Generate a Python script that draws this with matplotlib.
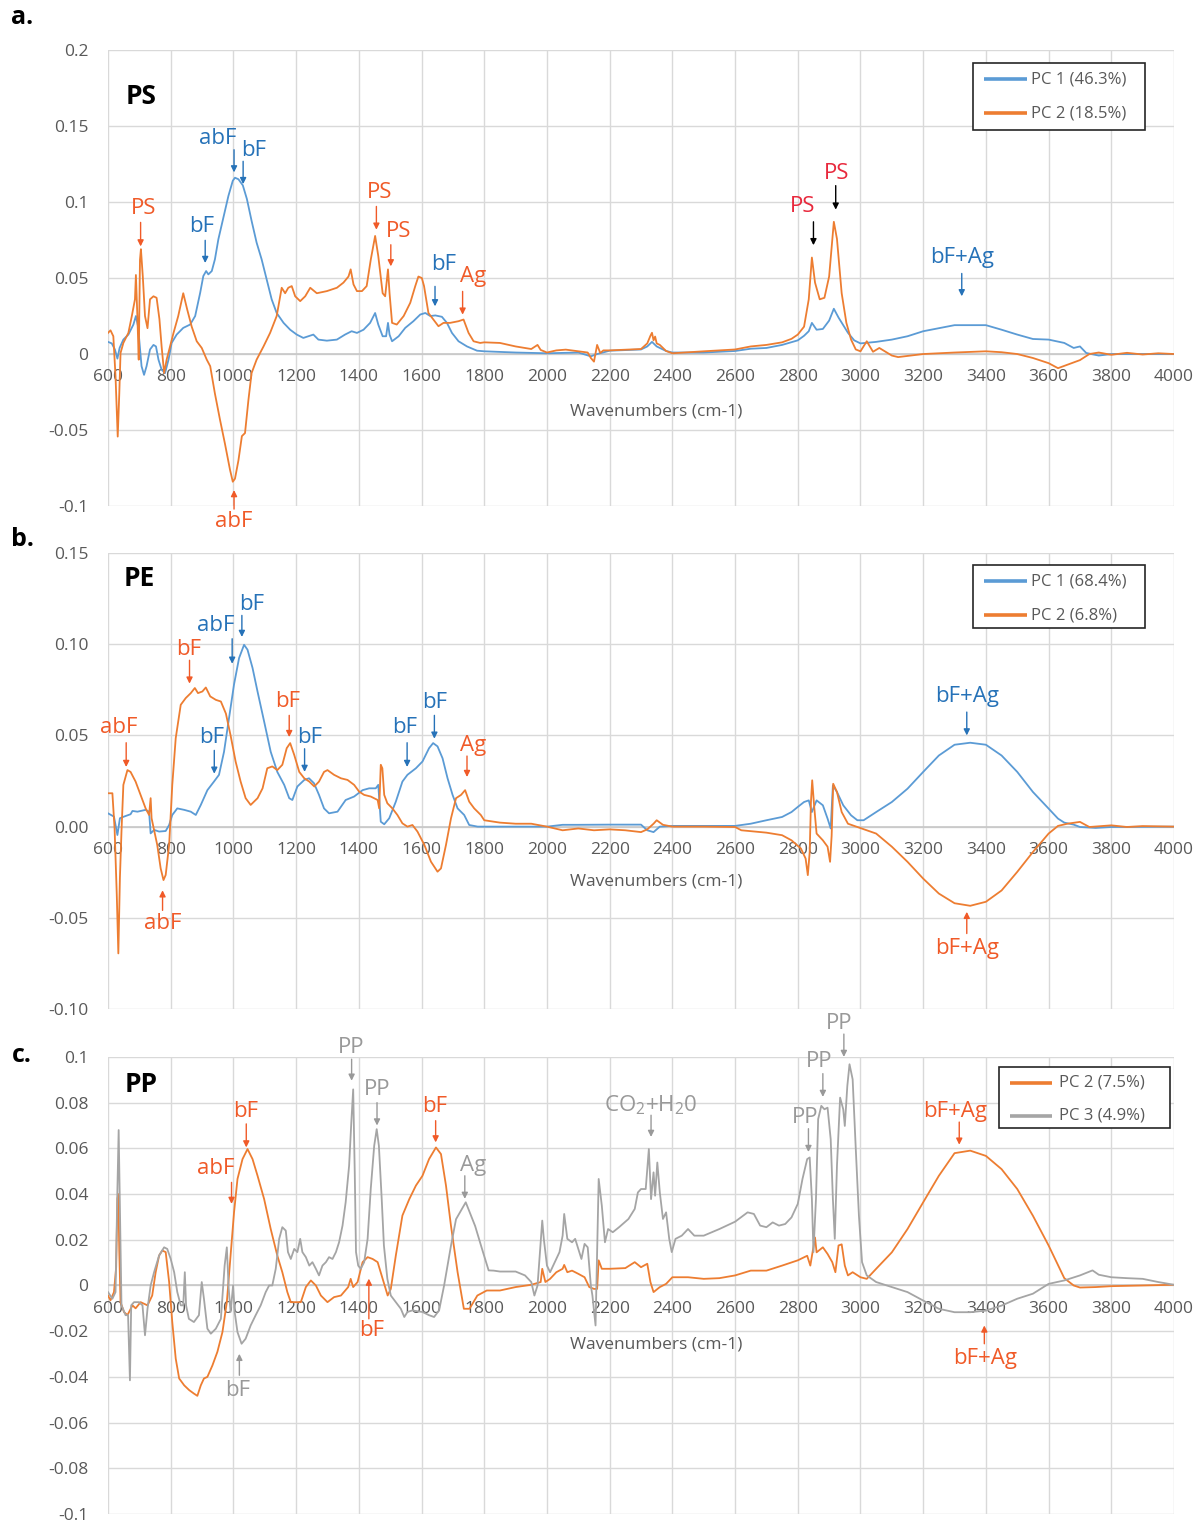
import matplotlib
matplotlib.use("Agg")
import matplotlib.pyplot as plt
from matplotlib.patches import Rectangle

plt.rcParams['font.family'] = ['Open Sans', 'DejaVu Sans']
plt.rcParams['mathtext.fontset'] = 'custom'
plt.rcParams['mathtext.rm'] = 'Open Sans'
plt.rcParams['mathtext.it'] = 'Open Sans'

# ---------------- PS : PC loadings ----------------
ps_pc1_wn = [600, 612, 622, 630, 637, 649, 665, 681, 689, 696, 700, 707, 715, 723, 734, 745, 753, 761, 771, 782,
             793, 803, 819, 840, 862, 878, 894, 904, 913, 920, 931, 941, 952, 968, 984, 998, 1005, 1016, 1030, 1043,
             1058, 1074, 1090, 1106, 1122, 1138, 1160, 1181, 1202, 1223, 1239, 1255, 1271, 1298, 1330, 1356, 1377,
             1394, 1415, 1436, 1452, 1462, 1476, 1487, 1493, 1498, 1506, 1527, 1548, 1574, 1596, 1612, 1628, 1644,
             1665, 1681, 1697, 1718, 1745, 1777, 1800, 1900, 2000, 2100, 2140, 2160, 2200, 2300, 2320, 2335, 2350,
             2380, 2400, 2500, 2600, 2650, 2700, 2750, 2800, 2820, 2835, 2845, 2860, 2880, 2900, 2915, 2930, 2960,
             2980, 3000, 3050, 3100, 3150, 3200, 3250, 3300, 3400, 3450, 3500, 3550, 3600, 3650, 3680, 3700, 3720,
             3760, 3800, 3900, 4000]
ps_pc1 = [0.008, 0.007, 0.003, -0.003, 0.004, 0.0095, 0.0128, 0.0194, 0.025, 0.018, 0.0084, -0.008, -0.0137,
          -0.008, 0.003, 0.006, 0.005, -0.0037, -0.0103, -0.0125, -0.0037, 0.0073, 0.0128, 0.0172, 0.0194, 0.025,
          0.0403, 0.0513, 0.0546, 0.0524, 0.0546, 0.0623, 0.0755, 0.0898, 0.104, 0.114, 0.116, 0.115, 0.111, 0.102,
          0.0876, 0.0733, 0.0623, 0.049, 0.036, 0.027, 0.0205, 0.016, 0.0128, 0.0106, 0.0117, 0.0128, 0.0095,
          0.0088, 0.0095, 0.0128, 0.015, 0.0139, 0.016, 0.0205, 0.027, 0.0194, 0.0117, 0.0117, 0.0205, 0.0128,
          0.0084, 0.0117, 0.0172, 0.0216, 0.026, 0.027, 0.025, 0.0254, 0.0245, 0.0205, 0.0139, 0.0084, 0.005,
          0.0022, 0.0018, 0.001, 0.0005, 0.001, -0.0015, 0.0, 0.0022, 0.003, 0.005, 0.008, 0.005, 0.002, 0.001,
          0.001, 0.002, 0.0035, 0.004, 0.006, 0.009, 0.012, 0.015, 0.0205, 0.016, 0.0165, 0.022, 0.0298, 0.024,
          0.014, 0.009, 0.007, 0.008, 0.0095, 0.0117, 0.015, 0.017, 0.019, 0.019, 0.016, 0.0128, 0.0099, 0.0095,
          0.0073, 0.004, 0.005, 0.0007, -0.001, 0.0, 0.0, 0.0]

ps_pc2_wn = [600, 608, 617, 624, 631, 636, 640, 649, 665, 676, 686, 689, 694, 698, 702, 705, 711, 718, 726, 734,
             745, 755, 764, 771, 779, 787, 798, 809, 824, 840, 853, 867, 883, 899, 915, 926, 941, 957, 973, 989,
             998, 1005, 1016, 1027, 1037, 1048, 1058, 1074, 1096, 1117, 1138, 1154, 1165, 1175, 1186, 1197, 1213,
             1229, 1245, 1266, 1298, 1330, 1351, 1367, 1374, 1383, 1394, 1410, 1425, 1438, 1452, 1462, 1476, 1484,
             1493, 1498, 1506, 1521, 1543, 1564, 1580, 1590, 1601, 1608, 1622, 1638, 1654, 1670, 1691, 1718, 1734,
             1750, 1766, 1787, 1800, 1850, 1900, 1950, 1970, 1980, 2000, 2030, 2060, 2100, 2130, 2140, 2150, 2160,
             2170, 2180, 2200, 2300, 2320, 2330, 2335, 2340, 2345, 2350, 2360, 2380, 2400, 2500, 2600, 2650, 2700,
             2750, 2780, 2800, 2820, 2835, 2845, 2855, 2870, 2885, 2900, 2915, 2925, 2940, 2955, 2970, 2985, 3000,
             3020, 3030, 3040, 3060, 3080, 3100, 3120, 3200, 3300, 3400, 3450, 3500, 3550, 3600, 3630, 3660, 3700,
             3730, 3760, 3800, 3850, 3900, 3950, 4000]
ps_pc2 = [0.0139, 0.0156, 0.0117, -0.0147, -0.0543, -0.026, 0.0007, 0.0073, 0.0139, 0.025, 0.036, 0.052, 0.023,
          -0.0037, 0.062, 0.069, 0.051, 0.025, 0.017, 0.036, 0.038, 0.037, 0.023, 0.005, -0.0125, -0.0037, 0.005,
          0.0139, 0.025, 0.040, 0.029, 0.018, 0.0084, 0.004, -0.0037, -0.008, -0.026, -0.043, -0.059, -0.076,
          -0.084, -0.082, -0.070, -0.054, -0.052, -0.030, -0.0125, -0.0037, 0.005, 0.0139, 0.025, 0.0436, 0.040,
          0.0436, 0.0447, 0.038, 0.0348, 0.038, 0.0436, 0.040, 0.0414, 0.0436, 0.047, 0.051, 0.0557, 0.0458,
          0.0414, 0.0414, 0.0447, 0.062, 0.0777, 0.0645, 0.040, 0.038, 0.0557, 0.040, 0.0205, 0.0194, 0.025,
          0.0337, 0.0447, 0.051, 0.050, 0.0447, 0.027, 0.0227, 0.0183, 0.0205, 0.0205, 0.0216, 0.0227, 0.0139,
          0.0084, 0.0073, 0.0077, 0.0073, 0.005, 0.0033, 0.006, 0.0027, 0.001, 0.0024, 0.0029, 0.0018, 0.001,
          -0.0026, -0.005, 0.006, 0.0007, 0.0024, 0.0024, 0.0033, 0.007, 0.012, 0.014, 0.009, 0.0115, 0.007,
          0.006, 0.002, 0.0005, 0.0018, 0.003, 0.005, 0.006, 0.0077, 0.010, 0.0128, 0.018, 0.036, 0.0635, 0.047,
          0.036, 0.037, 0.051, 0.087, 0.0757, 0.040, 0.0205, 0.0095, 0.003, 0.0018, 0.0084, 0.005, 0.0015, 0.004,
          0.0015, -0.001, -0.002, 0.0, 0.001, 0.0018, 0.0012, 0.0, -0.0026, -0.006, -0.0093, -0.007, -0.004, 0.0,
          0.001, -0.0005, 0.0008, -0.0003, 0.0005, 0.0]

# ---------------- PE : PC loadings ----------------
pe_pc1_wn = [600, 619, 630, 638, 651, 672, 678, 694, 720, 731, 736, 747, 763, 784, 795, 805, 821, 843, 864, 880,
             896, 917, 938, 954, 970, 986, 1002, 1018, 1034, 1045, 1061, 1077, 1098, 1119, 1140, 1162, 1178, 1188,
             1204, 1226, 1241, 1257, 1273, 1289, 1305, 1332, 1358, 1385, 1412, 1433, 1454, 1462, 1470, 1481, 1497,
             1518, 1539, 1555, 1582, 1603, 1624, 1637, 1651, 1667, 1683, 1699, 1715, 1736, 1752, 1779, 1800, 1900,
             2000, 2050, 2100, 2200, 2300, 2320, 2340, 2360, 2400, 2500, 2600, 2650, 2700, 2750, 2780, 2800, 2820,
             2835, 2845, 2860, 2880, 2895, 2905, 2912, 2925, 2945, 2970, 2990, 3010, 3050, 3100, 3150, 3200, 3250,
             3300, 3350, 3400, 3450, 3500, 3550, 3600, 3630, 3650, 3680, 3700, 3750, 3800, 4000]
pe_pc1 = [0.0073, 0.0055, -0.0046, 0.0046, 0.0055, 0.0068, 0.0086, 0.0082, 0.0092, 0.0082, -0.0037, -0.0018,
          -0.0027, -0.0024, 0.0009, 0.0064, 0.010, 0.0092, 0.0082, 0.0064, 0.0119, 0.020, 0.0247, 0.0284, 0.041,
          0.0595, 0.078, 0.0924, 0.0997, 0.097, 0.087, 0.074, 0.0576, 0.041, 0.030, 0.0229, 0.0156, 0.0146, 0.022,
          0.0256, 0.0265, 0.0238, 0.0174, 0.010, 0.0073, 0.0082, 0.0146, 0.0165, 0.020, 0.021, 0.021, 0.0229,
          0.0027, 0.0013, 0.0046, 0.0137, 0.0247, 0.0284, 0.032, 0.0357, 0.043, 0.0458, 0.044, 0.0375, 0.0265,
          0.0174, 0.010, 0.0064, 0.0009, 0.0, 0.0, 0.0, 0.0, 0.001, 0.001, 0.0011, 0.0011, -0.002, -0.003, 0.0,
          0.0004, 0.0004, 0.0004, 0.0016, 0.0035, 0.0053, 0.008, 0.0108, 0.0135, 0.0144, 0.008, 0.0144, 0.0117,
          0.0044, -0.001, 0.0226, 0.019, 0.0117, 0.0062, 0.0035, 0.0035, 0.008, 0.0135, 0.0208, 0.030, 0.039,
          0.0449, 0.046, 0.0449, 0.039, 0.030, 0.019, 0.0099, 0.0044, 0.0022, 0.0011, -0.0002, -0.0007, -0.0002,
          0.0]

pe_pc2_wn = [600, 614, 621, 628, 633, 638, 643, 649, 662, 672, 688, 704, 720, 731, 736, 739, 747, 757, 768, 777,
             784, 795, 805, 816, 832, 848, 864, 877, 887, 901, 912, 926, 944, 960, 976, 991, 1007, 1023, 1039, 1055,
             1077, 1093, 1108, 1124, 1140, 1156, 1170, 1181, 1194, 1210, 1226, 1242, 1258, 1273, 1289, 1300, 1321,
             1343, 1364, 1385, 1401, 1417, 1438, 1460, 1465, 1470, 1475, 1481, 1491, 1507, 1523, 1539, 1555, 1571,
             1587, 1609, 1630, 1651, 1662, 1678, 1694, 1710, 1726, 1739, 1752, 1768, 1789, 1800, 1850, 1900, 1950,
             2000, 2050, 2100, 2150, 2200, 2250, 2300, 2320, 2340, 2350, 2370, 2400, 2500, 2600, 2620, 2700, 2750,
             2780, 2810, 2825, 2832, 2838, 2842, 2846, 2852, 2860, 2880, 2895, 2903, 2908, 2913, 2925, 2940, 2960,
             2990, 3020, 3050, 3100, 3150, 3200, 3250, 3300, 3350, 3400, 3450, 3500, 3550, 3600, 3630, 3660, 3700,
             3730, 3800, 3850, 3900, 4000]
pe_pc2 = [0.0183, 0.0183, -0.001, -0.0375, -0.0695, -0.028, -0.0027, 0.0229, 0.031, 0.030, 0.0247, 0.0174, 0.010,
          0.0064, 0.0156, 0.0046, -0.0018, -0.010, -0.0229, -0.0293, -0.0265, -0.010, 0.0229, 0.0485, 0.0668,
          0.0705, 0.0732, 0.076, 0.0732, 0.0741, 0.0763, 0.0714, 0.0695, 0.0686, 0.062, 0.050, 0.0357, 0.0247,
          0.0156, 0.0119, 0.0156, 0.021, 0.032, 0.033, 0.031, 0.0339, 0.043, 0.0458, 0.0393, 0.030, 0.0265, 0.0247,
          0.022, 0.0247, 0.030, 0.031, 0.0284, 0.0265, 0.0256, 0.0229, 0.0192, 0.0174, 0.0165, 0.0146, 0.010,
          0.0339, 0.032, 0.0174, 0.0128, 0.010, 0.0064, 0.0018, 0.0, 0.0009, -0.0027, -0.010, -0.0192, -0.0247,
          -0.0229, -0.010, 0.0046, 0.0156, 0.0174, 0.020, 0.0137, 0.010, 0.0064, 0.0035, 0.0022, 0.0016, 0.0016,
          0.0, -0.002, -0.001, -0.002, -0.0015, -0.002, -0.003, -0.0015, 0.0016, 0.0035, 0.001, 0.0, 0.0, -0.0002,
          -0.002, -0.0033, -0.0047, -0.0075, -0.012, -0.0175, -0.0266, -0.014, 0.0135, 0.0254, 0.0117, -0.0038,
          -0.0075, -0.011, -0.0193, -0.005, 0.0235, 0.019, 0.008, 0.0016, -0.0002, -0.002, -0.0038, -0.011,
          -0.0193, -0.0285, -0.0367, -0.042, -0.0434, -0.0412, -0.035, -0.0248, -0.0139, -0.0038, 0.0004, 0.0016,
          0.0026, -0.0002, 0.0007, -0.0002, 0.0003, 0.0]

# ---------------- PP : PC loadings ----------------
pp_pc2_wn = [600, 608, 619, 626, 630, 633, 636, 640, 651, 662, 678, 688, 704, 726, 741, 752, 763, 773, 784, 789,
             795, 805, 816, 827, 843, 859, 874, 885, 896, 906, 917, 933, 949, 965, 979, 991, 1002, 1013, 1029, 1045,
             1061, 1077, 1098, 1119, 1140, 1156, 1172, 1183, 1199, 1215, 1231, 1247, 1263, 1279, 1300, 1321, 1343,
             1366, 1374, 1382, 1396, 1412, 1428, 1444, 1460, 1476, 1492, 1502, 1518, 1539, 1561, 1582, 1603, 1624,
             1646, 1662, 1678, 1694, 1715, 1735, 1753, 1778, 1808, 1850, 1900, 1950, 1980, 1985, 1995, 2010, 2030,
             2050, 2055, 2065, 2080, 2100, 2120, 2135, 2150, 2160, 2165, 2175, 2200, 2250, 2280, 2300, 2320, 2330,
             2340, 2360, 2380, 2400, 2450, 2500, 2550, 2600, 2650, 2700, 2750, 2800, 2830, 2840, 2855, 2860, 2880,
             2895, 2910, 2920, 2930, 2940, 2950, 2960, 2975, 3000, 3020, 3050, 3100, 3150, 3200, 3250, 3300, 3350,
             3400, 3450, 3500, 3550, 3600, 3650, 3680, 3700, 3750, 3800, 3900, 4000]
pp_pc2 = [-0.0044, -0.0065, -0.0029, 0.008, 0.038, 0.040, 0.015, -0.0073, -0.0116, -0.013, -0.0087, -0.010,
          -0.0073, -0.0087, -0.0044, 0.0058, 0.0131, 0.0153, 0.0146, 0.0087, 0.0015, -0.016, -0.032, -0.0407,
          -0.0437, -0.0458, -0.0473, -0.0483, -0.0437, -0.0407, -0.040, -0.035, -0.029, -0.0204, -0.0073, 0.0131,
          0.032, 0.0466, 0.0553, 0.0597, 0.0553, 0.048, 0.0378, 0.0247, 0.0131, 0.0058, -0.0029, -0.0073, -0.0073,
          -0.0073, -0.0007, 0.0022, 0.0, -0.0044, -0.0073, -0.0051, -0.0044, -0.0007, 0.0029, -0.0007, 0.0015,
          0.0102, 0.0124, 0.0116, 0.0102, 0.0029, -0.0044, -0.0015, 0.0131, 0.0306, 0.0378, 0.0437, 0.048, 0.0553,
          0.0604, 0.0575, 0.0437, 0.026, 0.0058, -0.0102, -0.0102, -0.0044, -0.0022, -0.0022, -0.0007, 0.0003,
          0.0015, 0.0073, 0.0015, 0.0029, 0.0058, 0.0073, 0.009, 0.0058, 0.0065, 0.0051, 0.0036, -0.0007, -0.0015,
          -0.0015, 0.011, 0.0073, 0.0073, 0.0076, 0.0102, 0.008, 0.0095, 0.0015, -0.0029, -0.0007, 0.0007, 0.0036,
          0.0036, 0.0029, 0.0032, 0.0044, 0.0065, 0.0065, 0.0087, 0.011, 0.013, 0.0087, 0.021, 0.0145, 0.0167,
          0.0138, 0.0102, 0.0058, 0.0175, 0.018, 0.0087, 0.0044, 0.0058, 0.0036, 0.0029, 0.0073, 0.0145, 0.0247,
          0.0364, 0.048, 0.0579, 0.059, 0.0567, 0.0509, 0.0422, 0.0305, 0.0175, 0.0032, 0.0, -0.0009, -0.0007,
          -0.0003, 0.0, 0.0003]

pp_pc3_wn = [600, 614, 624, 630, 634, 638, 643, 656, 664, 670, 674, 683, 699, 710, 718, 726, 736, 747, 763, 779,
             789, 800, 811, 821, 832, 840, 845, 849, 858, 874, 890, 899, 906, 917, 928, 944, 960, 972, 979, 985, 991,
             999, 1004, 1013, 1026, 1039, 1055, 1071, 1087, 1103, 1114, 1124, 1135, 1146, 1156, 1167, 1174, 1183,
             1194, 1204, 1213, 1220, 1231, 1242, 1252, 1263, 1273, 1284, 1295, 1305, 1316, 1327, 1337, 1348, 1358,
             1369, 1376, 1382, 1387, 1391, 1398, 1406, 1417, 1428, 1438, 1449, 1457, 1464, 1473, 1480, 1491, 1502,
             1518, 1534, 1545, 1555, 1571, 1587, 1603, 1624, 1640, 1656, 1672, 1694, 1710, 1741, 1771, 1796, 1814,
             1830, 1850, 1900, 1930, 1950, 1960, 1970, 1985, 1990, 2000, 2010, 2020, 2040, 2050, 2055, 2065, 2080,
             2090, 2100, 2110, 2120, 2130, 2140, 2145, 2155, 2165, 2175, 2185, 2195, 2210, 2230, 2260, 2280, 2290,
             2300, 2315, 2325, 2332, 2340, 2345, 2352, 2360, 2370, 2380, 2390, 2398, 2410, 2430, 2450, 2470, 2500,
             2550, 2600, 2640, 2660, 2680, 2700, 2720, 2740, 2760, 2780, 2800, 2815, 2830, 2838, 2845, 2850, 2858,
             2865, 2875, 2885, 2895, 2905, 2912, 2918, 2925, 2935, 2945, 2950, 2958, 2965, 2975, 2985, 2995, 3005,
             3020, 3050, 3100, 3150, 3200, 3250, 3300, 3350, 3400, 3450, 3500, 3550, 3600, 3650, 3700, 3740, 3760,
             3800, 3850, 3900, 3950, 4000]
pp_pc3 = [-0.0029, -0.0058, -0.0029, 0.042, 0.068, 0.035, -0.0087, -0.013, -0.013, -0.0415, -0.0087, -0.0073,
          -0.0073, -0.0087, -0.0218, -0.0102, 0.0, 0.0058, 0.0131, 0.0167, 0.016, 0.0116, 0.0058, -0.0029, -0.0087,
          -0.0087, 0.0058, -0.0087, -0.0146, -0.016, -0.013, 0.0015, -0.0058, -0.0189, -0.0211, -0.0189, -0.0146,
          0.0087, 0.0167, -0.0015, -0.0116, 0.0, -0.0116, -0.0204, -0.0255, -0.0233, -0.0175, -0.013, -0.0087,
          -0.0029, 0.0, 0.0, 0.0073, 0.0204, 0.0255, 0.024, 0.0146, 0.0116, 0.016, 0.0146, 0.0204, 0.0146, 0.0124,
          0.0087, 0.0102, 0.0073, 0.0044, 0.0087, 0.0102, 0.0124, 0.0116, 0.0146, 0.0189, 0.0262, 0.0364, 0.0524,
          0.0713, 0.0858, 0.0495, 0.0146, 0.0087, 0.0073, 0.0102, 0.0204, 0.0422, 0.0611, 0.0684, 0.0611, 0.0378,
          0.0175, 0.0029, -0.0044, -0.0073, -0.0102, -0.0138, -0.0116, -0.0109, -0.0113, -0.0116, -0.013, -0.0138,
          -0.0109, 0.0, 0.0175, 0.029, 0.0364, 0.026, 0.0146, 0.0066, 0.0065, 0.0061, 0.0061, 0.0044, 0.0015,
          -0.0044, 0.0, 0.0284, 0.0204, 0.0087, 0.0058, 0.0087, 0.0146, 0.0218, 0.0313, 0.0204, 0.0189, 0.0204,
          0.016, 0.0116, 0.0182, 0.0167, 0.0, -0.0044, -0.0175, 0.0466, 0.0349, 0.0189, 0.0247, 0.0233, 0.0255,
          0.0291, 0.0335, 0.0407, 0.0422, 0.0422, 0.0597, 0.0378, 0.0495, 0.0393, 0.0538, 0.0407, 0.0291, 0.032,
          0.0204, 0.0146, 0.0204, 0.0218, 0.0247, 0.0218, 0.0218, 0.0247, 0.0279, 0.032, 0.0313, 0.0262, 0.0255,
          0.0276, 0.0262, 0.0269, 0.0298, 0.0357, 0.0466, 0.0553, 0.056, 0.0378, 0.0146, 0.0378, 0.0728, 0.0786,
          0.0771, 0.0778, 0.064, 0.0378, 0.0204, 0.0524, 0.0822, 0.0771, 0.0698, 0.0873, 0.0968, 0.0902, 0.0597,
          0.0306, 0.0102, 0.0044, 0.0015, -0.0007, -0.0029, -0.0066, -0.0102, -0.0117, -0.0117, -0.011, -0.0088,
          -0.0058, -0.0036, 0.0007, 0.0022, 0.0044, 0.0066, 0.0047, 0.0036, 0.0032, 0.0029, 0.0015, 0.0003]

wn_ticks = list(range(600, 4001, 200))
ps_yticks = [-0.1, -0.05, 0, 0.05, 0.1, 0.15, 0.2]
ps_ylabels = ['-0.1', '-0.05', '0', '0.05', '0.1', '0.15', '0.2']
pe_yticks = [-0.10, -0.05, 0.0, 0.05, 0.10, 0.15]
pe_ylabels = ['-0.10', '-0.05', '0.00', '0.05', '0.10', '0.15']
pp_yticks = [-0.1, -0.08, -0.06, -0.04, -0.02, 0, 0.02, 0.04, 0.06, 0.08, 0.1]
pp_ylabels = ['-0.1', '-0.08', '-0.06', '-0.04', '-0.02', '0', '0.02', '0.04', '0.06', '0.08', '0.1']

C_BLUE = '#5B9BD5'
C_ORANGE = '#ED7D31'
C_GRAY = '#A5A5A5'
T_BLUE = '#2672B8'
T_ORANGE = '#F05A28'
T_RED = '#E8283C'
T_GRAY = '#999999'
TXT = '#595959'

fig = plt.figure(figsize=(12.04, 15.21), dpi=100)
ax_a = fig.add_axes([0.0897, 0.6673, 0.8854, 0.2998])
ax_b = fig.add_axes([0.0897, 0.3366, 0.8854, 0.2998])
ax_c = fig.add_axes([0.0897, 0.0046, 0.8854, 0.3005])


def style_axes(ax, ylim, yticks, ylabels):
    ax.set_xlim(600, 4000)
    ax.set_ylim(*ylim)
    ax.set_xticks(wn_ticks)
    ax.set_xticklabels([str(t) for t in wn_ticks])
    ax.set_yticks(yticks)
    ax.set_yticklabels(ylabels)
    ax.grid(True, color='#D9D9D9', lw=1.0)
    ax.set_axisbelow(True)
    for s in ax.spines.values():
        s.set_visible(False)
    ax.spines['bottom'].set_position(('data', 0))
    ax.tick_params(axis='both', length=0, labelsize=12.5, labelcolor=TXT)
    ax.tick_params(axis='x', pad=11)
    ax.tick_params(axis='y', pad=14)
    ax.axhline(0, color='#C8C8C8', lw=1.2, zorder=1)


def arrow(ax, x, y_tail, y_tip, color, lw=1.0, ms=9):
    ax.annotate('', xy=(x, y_tip), xytext=(x, y_tail),
                arrowprops=dict(arrowstyle='-|>', color=color, lw=lw, mutation_scale=ms,
                                shrinkA=0, shrinkB=0),
                annotation_clip=False, zorder=6)


def label(ax, items, size=16):
    for txt, tx, ty, color, ax_x, a0, a1, acol in items:
        ax.text(tx, ty, txt, color=color, fontsize=size, ha='center', va='center', zorder=6)
        arrow(ax, ax_x, a0, a1, acol)


def legend_box(ax, box, entries, line_x, text_x, ys):
    x0, x1, y0, y1 = box
    ax.add_patch(Rectangle((x0, y0), x1 - x0, y1 - y0, transform=ax.transAxes, facecolor='white',
                           edgecolor='#262626', lw=1.2, zorder=8))
    for (name, col), y in zip(entries, ys):
        ax.plot(line_x, [y, y], transform=ax.transAxes, color=col, lw=2.6, zorder=9, solid_capstyle='butt')
        ax.text(text_x, y, name, transform=ax.transAxes, color=TXT, fontsize=12, ha='left', va='center',
                zorder=9)


# ---- a. PS ----
style_axes(ax_a, (-0.1, 0.2), ps_yticks, ps_ylabels)
ax_a.plot(ps_pc1_wn, ps_pc1, color=C_BLUE, lw=1.3, zorder=3)
ax_a.plot(ps_pc2_wn, ps_pc2, color=C_ORANGE, lw=1.3, zorder=4)
ax_a.text(705, 0.1695, 'PS', fontsize=19, fontweight='bold', ha='center', va='center', color='black')
ax_a.text(2348, -0.0375, 'Wavenumbers (cm-1)', fontsize=12.5, color=TXT, ha='center', va='center')
label(ax_a, [
    ('PS', 713, 0.096, T_ORANGE, 704, 0.0866, 0.0708, T_ORANGE),
    ('abF', 950, 0.142, T_BLUE, 1002, 0.1344, 0.1195, T_BLUE),
    ('bF', 1063, 0.134, T_BLUE, 1031, 0.1268, 0.1118, T_BLUE),
    ('bF', 900, 0.084, T_BLUE, 910, 0.0748, 0.0599, T_BLUE),
    ('PS', 1465, 0.106, T_ORANGE, 1456, 0.0971, 0.0818, T_ORANGE),
    ('PS', 1526, 0.0807, T_ORANGE, 1502, 0.0719, 0.0577, T_ORANGE),
    ('bF', 1670, 0.0588, T_BLUE, 1643, 0.0445, 0.0314, T_BLUE),
    ('Ag', 1766, 0.0511, T_ORANGE, 1731, 0.0412, 0.0259, T_ORANGE),
    ('abF', 1002, -0.1105, T_ORANGE, 1002, -0.102, -0.0895, T_ORANGE),
    ('PS', 2817, 0.0971, T_RED, 2850, 0.087, 0.0716, 'black'),
    ('PS', 2924, 0.119, T_RED, 2921, 0.1108, 0.095, 'black'),
    ('bF+Ag', 3323, 0.0634, T_BLUE, 3323, 0.053, 0.038, T_BLUE),
])
legend_box(ax_a, (0.8114, 0.9728, 0.8246, 0.9715),
           [('PC 1 (46.3%)', C_BLUE), ('PC 2 (18.5%)', C_ORANGE)],
           [0.8218, 0.8621], 0.8655, [0.9364, 0.8618])

# ---- b. PE ----
style_axes(ax_b, (-0.1, 0.15), pe_yticks, pe_ylabels)
ax_b.plot(pe_pc1_wn, pe_pc1, color=C_BLUE, lw=1.3, zorder=3)
ax_b.plot(pe_pc2_wn, pe_pc2, color=C_ORANGE, lw=1.3, zorder=4)
ax_b.text(700, 0.136, 'PE', fontsize=19, fontweight='bold', ha='center', va='center', color='black')
ax_b.text(2348, -0.0302, 'Wavenumbers (cm-1)', fontsize=12.5, color=TXT, ha='center', va='center')
label(ax_b, [
    ('abF', 633, 0.0546, T_ORANGE, 658, 0.046, 0.0327, T_ORANGE),
    ('bF', 857, 0.097, T_ORANGE, 860, 0.0912, 0.0784, T_ORANGE),
    ('abF', 945, 0.11, T_BLUE, 996, 0.103, 0.0893, T_BLUE),
    ('bF', 1059, 0.122, T_BLUE, 1027, 0.1158, 0.104, T_BLUE),
    ('bF', 931, 0.0491, T_BLUE, 939, 0.0418, 0.029, T_BLUE),
    ('bF', 1174, 0.0687, T_ORANGE, 1178, 0.061, 0.0491, T_ORANGE),
    ('bF', 1243, 0.0491, T_BLUE, 1227, 0.0427, 0.030, T_BLUE),
    ('abF', 774, -0.0532, T_ORANGE, 774, -0.0459, -0.0349, T_ORANGE),
    ('bF', 1545, 0.0546, T_BLUE, 1554, 0.046, 0.0327, T_BLUE),
    ('bF', 1643, 0.0683, T_BLUE, 1641, 0.061, 0.0482, T_BLUE),
    ('Ag', 1764, 0.0446, T_ORANGE, 1745, 0.0387, 0.0272, T_ORANGE),
    ('bF+Ag', 3339, 0.0715, T_BLUE, 3339, 0.0628, 0.050, T_BLUE),
    ('bF+Ag', 3339, -0.0668, T_ORANGE, 3339, -0.0586, -0.0467, T_ORANGE),
])
legend_box(ax_b, (0.8114, 0.9728, 0.8355, 0.9737),
           [('PC 1 (68.4%)', C_BLUE), ('PC 2 (6.8%)', C_ORANGE)],
           [0.8218, 0.8621], 0.8655, [0.9386, 0.864])

# ---- c. PP ----
style_axes(ax_c, (-0.1, 0.1), pp_yticks, pp_ylabels)
ax_c.plot(pp_pc2_wn, pp_pc2, color=C_ORANGE, lw=1.3, zorder=3)
ax_c.plot(pp_pc3_wn, pp_pc3, color=C_GRAY, lw=1.3, zorder=4)
ax_c.text(706, 0.0881, 'PP', fontsize=19, fontweight='bold', ha='center', va='center', color='black')
ax_c.text(2348, -0.0258, 'Wavenumbers (cm-1)', fontsize=12.5, color=TXT, ha='center', va='center')
label(ax_c, [
    ('abF', 945, 0.051, T_ORANGE, 994, 0.0451, 0.0357, T_ORANGE),
    ('bF', 1039, 0.076, T_ORANGE, 1041, 0.0707, 0.0604, T_ORANGE),
    ('PP', 1376, 0.104, T_GRAY, 1377, 0.099, 0.0896, T_GRAY),
    ('PP', 1459, 0.0857, T_GRAY, 1458, 0.080, 0.070, T_GRAY),
    ('bF', 1643, 0.0784, T_ORANGE, 1645, 0.0721, 0.0626, T_ORANGE),
    ('Ag', 1763, 0.0524, T_GRAY, 1738, 0.048, 0.0379, T_GRAY),
    ('bF', 1441, -0.0197, T_ORANGE, 1432, -0.0146, 0.003, T_ORANGE),
    ('bF', 1013, -0.0459, T_GRAY, 1019, -0.0393, -0.0299, T_GRAY),
    (r'CO$_{2}$+H$_{2}$0', 2332, 0.0791, T_GRAY, 2332, 0.0745, 0.065, T_GRAY),
    ('PP', 2822, 0.0737, T_GRAY, 2834, 0.0686, 0.0584, T_GRAY),
    ('PP', 2867, 0.0978, T_GRAY, 2880, 0.0927, 0.0825, T_GRAY),
    ('PP', 2932, 0.1146, T_GRAY, 2947, 0.110, 0.100, T_GRAY),
    ('bF+Ag', 3302, 0.0762, T_ORANGE, 3315, 0.0715, 0.0616, T_ORANGE),
    ('bF+Ag', 3398, -0.0318, T_ORANGE, 3395, -0.0255, -0.0175, T_ORANGE),
])
legend_box(ax_c, (0.8355, 0.9962, 0.8446, 0.9781),
           [('PC 2 (7.5%)', C_ORANGE), ('PC 3 (4.9%)', C_GRAY)],
           [0.8462, 0.8856], 0.8921, [0.9431, 0.8709])

# panel letters
for letter, ypx in [('a.', 18), ('b.', 540), ('c.', 1055)]:
    fig.text(22 / 1204, 1 - ypx / 1521, letter, fontsize=18, fontweight='bold', ha='center', va='center')

fig.savefig('out.png', dpi=100)
